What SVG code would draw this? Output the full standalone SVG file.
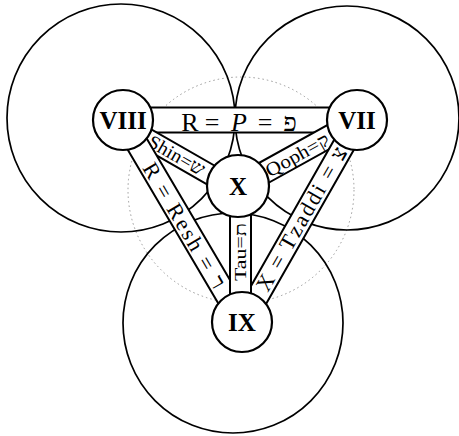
<svg xmlns="http://www.w3.org/2000/svg" width="459" height="436" viewBox="0 0 459 436">
<style>
.big{fill:none;stroke:#000;stroke-width:1.7}
.dot{fill:none;stroke:#999;stroke-width:1;stroke-dasharray:1.5 3}
.band{fill:#fff;stroke:#000;stroke-width:2}
.node{fill:#fff;stroke:#000;stroke-width:2.2}
.nl{font-family:"Liberation Serif","DejaVu Serif",serif;font-weight:bold;font-size:25px;text-anchor:middle;fill:#000}
.bt{font-family:"Liberation Serif","DejaVu Serif",serif;fill:#000;text-anchor:middle}
</style>
<rect width="459" height="436" fill="#fff"/>
<g id="circles">
<circle class="dot" cx="241" cy="190" r="113"/>
<circle class="big" cx="121" cy="118" r="114"/>
<circle class="big" cx="347" cy="118" r="112"/>
<circle class="big" cx="233" cy="323" r="110"/>
</g>
<g id="connectors">
<g id="band-top">
<rect class="band" x="140" y="107.5" width="200" height="25"/>
<text class="bt" font-size="26" y="130.5"><tspan x="190">R</tspan><tspan x="212">=</tspan><tspan x="239" font-style="italic">P</tspan><tspan x="265">=</tspan><tspan x="290">פ</tspan></text>
</g>
<g id="band-shin" transform="translate(123,120) rotate(29.85)">
<rect class="band" x="0" y="-6" width="132" height="20"/>
<text class="bt" font-size="19" x="64" y="10.5" textLength="62" lengthAdjust="spacingAndGlyphs">Shin=ש</text>
</g>
<g id="band-qoph" transform="translate(238,186) rotate(-29)">
<rect class="band" x="0" y="-10" width="136" height="22"/>
<text class="bt" font-size="19" x="67" y="8" textLength="70" lengthAdjust="spacingAndGlyphs">Qoph=ק</text>
</g>
<g id="band-resh" transform="translate(123,120) rotate(59.5)">
<rect class="band" x="0" y="-11" width="234" height="22"/>
<text class="bt" font-size="22" x="122" y="8" textLength="142" lengthAdjust="spacing">R = Resh = ר</text>
</g>
<g id="band-tzaddi" transform="translate(242,322) rotate(-60.35)">
<rect class="band" x="0" y="-10" width="232" height="22"/>
<text class="bt" font-size="22" x="119" y="8" textLength="162" lengthAdjust="spacing">X = Tzaddi = צ</text>
</g>
<g id="band-tau">
<rect class="band" x="230" y="190" width="21" height="110"/>
<text class="bt" font-size="16" transform="translate(246,252) rotate(-90)" x="0" y="0" textLength="58" lengthAdjust="spacingAndGlyphs">Tau=ת</text>
</g>
</g>
<g id="node-VIII"><circle class="node" cx="123" cy="120" r="30"/><text class="nl" x="123" y="128.5">VIII</text></g>
<g id="node-VII"><circle class="node" cx="357" cy="120" r="30"/><text class="nl" x="357" y="128.5">VII</text></g>
<g id="node-X"><circle class="node" cx="238" cy="186" r="31"/><text class="nl" x="238" y="194.5">X</text></g>
<g id="node-IX"><circle class="node" cx="242" cy="322" r="30"/><text class="nl" x="242" y="330.5">IX</text></g>
</svg>
